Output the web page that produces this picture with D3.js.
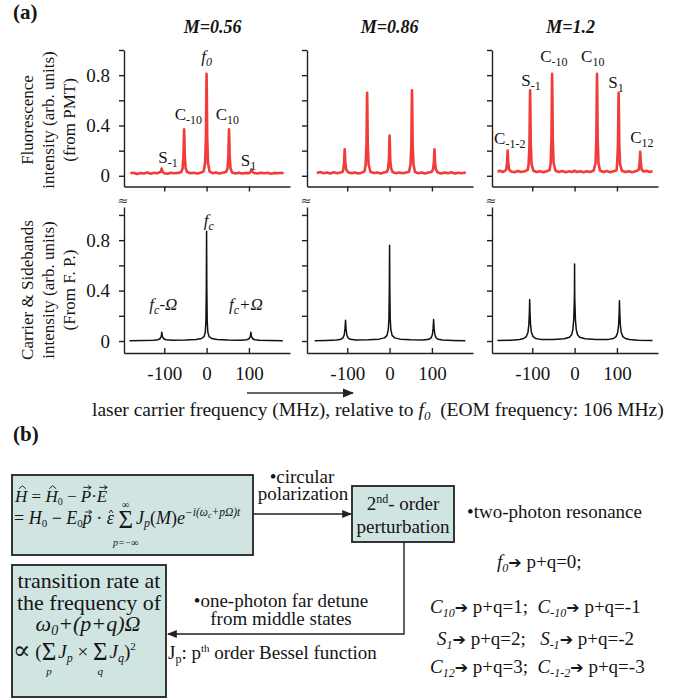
<!DOCTYPE html>
<html><head><meta charset="utf-8">
<script src="https://cdn.jsdelivr.net/npm/d3@7"></script>
<style>html,body{margin:0;padding:0;background:#fff;}svg{display:block;}
svg text{white-space:pre;font-family:"Liberation Serif","Times New Roman",Tinos,"DejaVu Serif","Noto Serif",serif;}</style>
</head><body>
<svg id="fig" width="690" height="698"></svg>
<script>
// ---------------- DATA ----------------
const panelTitles = ["M=0.56", "M=0.86", "M=1.2"];
const xTickValues = [-100, 0, 100];
const yTickValues = [0, 0.2, 0.4, 0.6, 0.8, 1.0];
const yLabeledTicks = [0, 0.4, 0.8];

// Fluorescence (PMT) spectra, [frequency MHz, intensity]
const pmt056 = [[-180,0.02],[-172,0.025],[-164,0.015],[-156,0.022],[-148,0.018],[-140,0.026],[-132,0.017],[-124,0.024],[-116,0.02],[-112,0.028],
 [-108.5,0.03],[-107,0.045],[-106,0.058],[-105,0.045],[-103.5,0.03],
 [-100,0.021],[-92,0.017],[-84,0.025],[-76,0.02],[-68,0.023],[-60,0.028],
 [-56.5,0.06],[-54.5,0.16],[-53.6,0.3],[-53,0.37],[-52.4,0.3],[-51.5,0.16],[-49.5,0.06],
 [-46,0.03],[-38,0.02],[-30,0.025],[-22,0.018],[-14,0.024],[-7,0.035],
 [-3.5,0.1],[-1.5,0.3],[-0.6,0.65],[0,0.81],[0.6,0.65],[1.5,0.3],[3.5,0.1],
 [7,0.035],[14,0.02],[22,0.026],[30,0.018],[38,0.024],[46,0.03],
 [49.5,0.06],[51.5,0.16],[52.4,0.3],[53,0.37],[53.6,0.3],[54.5,0.16],[56.5,0.06],
 [60,0.027],[68,0.019],[76,0.025],[84,0.018],[92,0.023],[100,0.02],
 [103.5,0.03],[105,0.042],[106,0.052],[107,0.042],[108.5,0.03],
 [112,0.022],[120,0.018],[128,0.025],[136,0.02],[144,0.024],[152,0.017],[160,0.023],[168,0.02],[176,0.024],[182,0.02]];
const pmt086 = [[-172,0.022],[-164,0.03],[-156,0.02],[-148,0.027],[-140,0.019],[-132,0.028],[-124,0.021],[-116,0.026],[-111,0.03],
 [-109.5,0.05],[-107.5,0.1],[-106.6,0.17],[-106,0.21],[-105.4,0.17],[-104.5,0.1],[-102.5,0.05],
 [-98,0.028],[-90,0.02],[-82,0.026],[-74,0.018],[-66,0.025],[-59,0.035],
 [-56.5,0.09],[-54.5,0.25],[-53.6,0.52],[-53,0.66],[-52.4,0.52],[-51.5,0.25],[-49.5,0.09],
 [-45,0.03],[-37,0.022],[-29,0.027],[-21,0.019],[-13,0.026],[-6,0.032],
 [-3.5,0.06],[-1.5,0.13],[-0.6,0.26],[0,0.32],[0.6,0.26],[1.5,0.13],[3.5,0.06],
 [7,0.03],[15,0.021],[23,0.027],[31,0.02],[39,0.026],[46,0.032],
 [49.5,0.09],[51.5,0.25],[52.4,0.54],[53,0.68],[53.6,0.54],[54.5,0.25],[56.5,0.09],
 [60,0.03],[68,0.02],[76,0.027],[84,0.019],[92,0.026],[99,0.03],
 [102.5,0.05],[104.5,0.1],[105.4,0.17],[106,0.21],[106.6,0.17],[107.5,0.1],[109.5,0.05],
 [114,0.027],[122,0.019],[130,0.026],[138,0.02],[146,0.028],[154,0.018],[162,0.025],[170,0.021],[180,0.026]];
const pmt12 = [[-182,0.032],[-176,0.04],[-170,0.03],[-164,0.04],
 [-161.5,0.05],[-159.5,0.1],[-158.6,0.16],[-158,0.2],[-157.4,0.16],[-156.5,0.1],[-154.5,0.05],
 [-150,0.034],[-142,0.028],[-134,0.038],[-126,0.03],[-118,0.036],[-111,0.045],
 [-108.5,0.09],[-106.5,0.25],[-105.6,0.54],[-105,0.68],[-104.4,0.54],[-103.5,0.25],[-101.5,0.09],
 [-97,0.04],[-90,0.03],[-82,0.037],[-74,0.029],[-66,0.036],[-59,0.045],
 [-56.5,0.1],[-54.5,0.3],[-53.6,0.64],[-53,0.81],[-52.4,0.64],[-51.5,0.3],[-49.5,0.1],
 [-45,0.04],[-37,0.03],[-29,0.038],[-21,0.028],[-13,0.036],[-6,0.03],[0,0.04],[6,0.03],[13,0.037],[21,0.029],[29,0.036],[37,0.03],[45,0.042],
 [49.5,0.1],[51.5,0.3],[52.4,0.64],[53,0.81],[53.6,0.64],[54.5,0.3],[56.5,0.1],
 [60,0.042],[68,0.03],[76,0.038],[84,0.029],[92,0.036],[99,0.044],
 [100.5,0.09],[102.5,0.25],[103.4,0.52],[104,0.66],[104.6,0.52],[105.5,0.25],[107.5,0.09],
 [112,0.04],[120,0.03],[128,0.037],[136,0.029],[144,0.036],[150,0.045],
 [151.5,0.05],[153.5,0.1],[154.4,0.15],[155,0.19],[155.6,0.15],[156.5,0.1],[158.5,0.05],
 [163,0.034],[170,0.04],[177,0.03],[184,0.036]];

// Carrier & sidebands (Fabry-Perot) spectra
const fp056 = [[-182,0.003],[-150,0.004],[-125,0.006],[-115,0.01],[-110,0.018],[-107,0.035],[-105.7,0.07],[-104.4,0.035],[-101,0.018],[-96,0.01],[-80,0.007],[-50,0.008],[-25,0.012],[-12,0.02],[-6,0.035],[-3,0.07],[-1.5,0.16],[-0.6,0.42],[0,0.87],[0.6,0.42],[1.5,0.16],[3,0.07],[6,0.035],[12,0.02],[25,0.012],[50,0.008],[80,0.007],[95,0.01],[100,0.018],[103.3,0.035],[104.6,0.07],[106,0.035],[109,0.018],[114,0.01],[125,0.006],[150,0.004],[180,0.003]];
const fp086 = [[-177,0.003],[-150,0.005],[-125,0.008],[-115,0.014],[-110,0.025],[-107,0.05],[-105.2,0.1],[-104,0.165],[-102.8,0.1],[-101,0.05],[-98,0.025],[-93,0.014],[-80,0.009],[-50,0.01],[-25,0.015],[-12,0.025],[-6,0.045],[-3,0.09],[-1.5,0.18],[-0.6,0.4],[0,0.76],[0.6,0.4],[1.5,0.18],[3,0.09],[6,0.045],[12,0.025],[25,0.015],[50,0.01],[80,0.009],[93,0.014],[98,0.025],[101,0.05],[102.8,0.1],[104,0.17],[105.2,0.1],[107,0.05],[110,0.025],[115,0.014],[125,0.008],[150,0.005],[179,0.003]];
const fp12 = [[-182,0.004],[-150,0.007],[-130,0.012],[-120,0.02],[-114,0.035],[-110,0.07],[-108,0.13],[-106.8,0.22],[-106,0.33],[-105.2,0.22],[-104,0.13],[-102,0.07],[-98,0.035],[-92,0.02],[-80,0.013],[-50,0.012],[-25,0.018],[-12,0.03],[-7,0.05],[-4,0.09],[-2,0.17],[-0.8,0.3],[-0.3,0.36],[0,0.61],[0.3,0.36],[0.8,0.3],[2,0.17],[4,0.09],[7,0.05],[12,0.03],[25,0.018],[50,0.012],[80,0.013],[92,0.02],[98,0.035],[102,0.07],[104,0.13],[105.2,0.22],[106,0.32],[106.8,0.22],[108,0.13],[110,0.07],[114,0.035],[120,0.02],[130,0.012],[150,0.007],[184,0.004]];

// Peak labels: main text, subscript, tail, anchor frequency, text baseline level, italic
const pmtLabels056 = [
  {m:"f", s:"0", t:"", f:0, v:0.905, it:true},
  {m:"C", s:"-10", t:"", f:-43, v:0.44, it:false},
  {m:"C", s:"10", t:"", f:49, v:0.44, it:false},
  {m:"S", s:"-1", t:"", f:-91, v:0.10, it:false},
  {m:"S", s:"1", t:"", f:99, v:0.08, it:false}];
const pmtLabels12 = [
  {m:"C", s:"-1-2", t:"", f:-153, v:0.25, it:false},
  {m:"S", s:"-1", t:"", f:-103, v:0.71, it:false},
  {m:"C", s:"-10", t:"", f:-49, v:0.905, it:false},
  {m:"C", s:"10", t:"", f:43, v:0.905, it:false},
  {m:"S", s:"1", t:"", f:98, v:0.70, it:false},
  {m:"C", s:"12", t:"", f:159, v:0.26, it:false}];
const fpLabels056 = [
  {m:"f", s:"c", t:"", f:5, v:0.91, it:true},
  {m:"f", s:"c", t:"-Ω", f:-102, v:0.25, it:true},
  {m:"f", s:"c", t:"+Ω", f:93, v:0.25, it:true}];

const pmtSeries = [pmt056, pmt086, pmt12];
const fpSeries = [fp056, fp086, fp12];
const pmtLabelSets = [pmtLabels056, [], pmtLabels12];
const fpLabelSets = [fpLabels056, [], []];

// ---------------- DRAWING ----------------
const SERIF = '"Liberation Serif","Times New Roman",Tinos,"DejaVu Serif","Noto Serif",serif';
const INK = "#151515";
const RED = "#f23b3b";
const svg = d3.select("#fig");
svg.append("rect").attr("width", 690).attr("height", 698).attr("fill", "#fff");

function txt(parent) {
  return parent.append("text").style("font-family", SERIF).style("white-space", "pre");
}

function rich(parent, x, y, parts, o = {}) {
  const g = parent.append("g");
  let cx = 0;
  const base = o.sz || 17;
  parts.forEach(p => {
    if (typeof p === "string") p = {t: p};
    const sz = p.sz || base;
    const it = p.it != null ? p.it : !!o.it;
    const x0 = cx + (p.dx || 0);
    const t = txt(g).attr("x", x0).attr("y", p.dy || 0)
      .attr("font-size", sz)
      .attr("font-style", it ? "italic" : "normal")
      .attr("font-weight", (p.b != null ? p.b : o.b) ? "bold" : "normal")
      .attr("fill", o.fill || INK).text(p.t);
    if (p.ff) t.style("font-family", p.ff);
    const w = t.node().getComputedTextLength();
    if (p.deco === "hat") {
      const yb = p.hy != null ? p.hy : -0.78 * sz;
      g.append("path").attr("d", `M${x0 + w * 0.32},${yb} L${x0 + w * 0.6},${yb - 3} L${x0 + w * 0.88},${yb}`)
        .attr("fill", "none").attr("stroke", INK).attr("stroke-width", 0.9);
    }
    if (p.deco === "vec") {
      const yv = p.vy != null ? p.vy : -0.86 * sz;
      const a = x0 + w * 0.25, b = x0 + w * 1.0;
      g.append("path").attr("d", `M${a},${yv} L${b},${yv} M${b - 3},${yv - 2} L${b},${yv} L${b - 3},${yv + 2}`)
        .attr("fill", "none").attr("stroke", INK).attr("stroke-width", 0.9);
    }
    if (p.lim) {
      const c = x0 + w / 2;
      if (p.lim[0]) txt(g).attr("x", c).attr("y", p.lim[2] || -17).attr("text-anchor", "middle")
        .attr("font-size", p.limSz || 10).attr("font-style", "italic").attr("fill", INK).text(p.lim[0]);
      if (p.lim[1]) txt(g).attr("x", c).attr("y", p.lim[3] || 19).attr("text-anchor", "middle")
        .attr("font-size", p.limSz || 10).attr("font-style", "italic").attr("fill", INK).text(p.lim[1]);
    }
    cx = x0 + w;
  });
  let shift = 0;
  if (o.anchor === "middle") shift = -cx / 2;
  else if (o.anchor === "end") shift = -cx;
  g.attr("transform", `translate(${x + shift},${y})`);
  return g;
}

const panelLeft = [124, 307, 492];
const panelW = 166;
const xDomain = [-195, 197];
const yT = d3.scaleLinear().domain([-0.085, 1]).range([186.5, 50]);
const yB = d3.scaleLinear().domain([-0.095, 1.063]).range([353, 207]);
const titleDx = [6, 0, -4];

function styleAxis(g) {
  g.attr("font-family", null).attr("font-size", null);
  g.selectAll("path,line").attr("stroke", "#222").attr("stroke-width", 1.4);
  g.selectAll("text").style("font-family", SERIF).attr("font-size", 19).attr("fill", INK);
}

panelTitles.forEach((title, i) => {
  const x = d3.scaleLinear().domain(xDomain).range([panelLeft[i], panelLeft[i] + panelW]);
  const L = panelLeft[i];

  txt(svg).attr("x", x(0) + titleDx[i]).attr("y", 33).attr("text-anchor", "middle")
    .attr("font-size", 18).attr("font-weight", "bold").attr("font-style", "italic")
    .attr("fill", INK).text(title);

  const gyT = svg.append("g").attr("transform", `translate(${L},0)`)
    .call(d3.axisLeft(yT).tickValues(yTickValues).tickSizeInner(5).tickSizeOuter(0).tickPadding(9)
      .tickFormat(d => (i === 0 && yLabeledTicks.includes(d)) ? String(d) : ""));
  styleAxis(gyT);
  const gxT = svg.append("g").attr("transform", `translate(0,${yT.range()[0]})`)
    .call(d3.axisBottom(x).tickValues(xTickValues).tickSizeInner(5).tickSizeOuter(0).tickFormat(""));
  styleAxis(gxT);

  const gyB = svg.append("g").attr("transform", `translate(${L},0)`)
    .call(d3.axisLeft(yB).tickValues(yTickValues).tickSizeInner(5).tickSizeOuter(0).tickPadding(9)
      .tickFormat(d => (i === 0 && yLabeledTicks.includes(d)) ? String(d) : ""));
  styleAxis(gyB);
  const gxB = svg.append("g").attr("transform", `translate(0,${yB.range()[0]})`)
    .call(d3.axisBottom(x).tickValues(xTickValues).tickSizeInner(-5).tickSizeOuter(0).tickPadding(14)
      .tickFormat(d => String(d)));
  styleAxis(gxB);

  svg.append("text").attr("x", L - 1).attr("y", 205).attr("text-anchor", "middle")
    .style("font-family", "'DejaVu Sans',sans-serif").attr("font-size", 13).attr("fill", "#444").text("≈");

  const lineT = d3.line().x(d => x(d[0])).y(d => yT(d[1]));
  svg.append("path").datum(pmtSeries[i]).attr("d", lineT).attr("fill", "none")
    .attr("stroke", RED).attr("stroke-width", 2.6).attr("stroke-linejoin", "round");
  const lineB = d3.line().x(d => x(d[0])).y(d => yB(d[1]));
  svg.append("path").datum(fpSeries[i]).attr("d", lineB).attr("fill", "none")
    .attr("stroke", "#111").attr("stroke-width", 1.5).attr("stroke-linejoin", "round");

  pmtLabelSets[i].forEach(l => {
    rich(svg, x(l.f), yT(l.v), [{t: l.m, it: l.it}, {t: l.s, sz: 12, dy: 4, it: l.it}, {t: l.t, it: l.it}], {sz: 17, anchor: "middle"});
  });
  fpLabelSets[i].forEach(l => {
    rich(svg, x(l.f), yB(l.v), [{t: l.m, it: true}, {t: l.s, sz: 12, dy: 4, it: true}, {t: l.t, it: true}], {sz: 17, anchor: "middle"});
  });
});

function vlabel(lines, cy) {
  const xs = [33, 54, 75];
  lines.forEach((s, k) => {
    txt(svg).attr("transform", `translate(${xs[k]},${cy}) rotate(-90)`).attr("text-anchor", "middle")
      .attr("font-size", 17).attr("fill", INK).text(s);
  });
}
vlabel(["Fluorescence", "intensity (arb. units)", "(from PMT)"], 120);
vlabel(["Carrier & Sidebands", "intensity (arb. units)", "(From F. P.)"], 290);

txt(svg).attr("x", 13).attr("y", 19).attr("font-size", 21).attr("font-weight", "bold").attr("fill", INK).text("(a)");
txt(svg).attr("x", 13).attr("y", 441).attr("font-size", 21).attr("font-weight", "bold").attr("fill", INK).text("(b)");

const defs = svg.append("defs");
defs.append("marker").attr("id", "ah").attr("viewBox", "0 0 10 10").attr("refX", 9).attr("refY", 5)
  .attr("markerWidth", 7).attr("markerHeight", 7).attr("orient", "auto-start-reverse")
  .append("path").attr("d", "M0,1 L10,5 L0,9 Z").attr("fill", "#222");
svg.append("line").attr("x1", 247).attr("y1", 393).attr("x2", 353).attr("y2", 393)
  .attr("stroke", "#333").attr("stroke-width", 1.6).attr("marker-end", "url(#ah)");
rich(svg, 92, 416, ["laser carrier frequency (MHz), relative to ", {t: "f", it: true}, {t: "0", it: true, sz: 13, dy: 4},
  {t: "  (EOM frequency: 106 MHz)"}], {sz: 19.5});

// ---------------- (b) diagram ----------------
const FILL = "#d0e4e2";
svg.append("rect").attr("x", 12).attr("y", 475).attr("width", 241).attr("height", 80)
  .attr("fill", FILL).attr("stroke", "#222").attr("stroke-width", 1.8);
svg.append("rect").attr("x", 352).attr("y", 486).attr("width", 102).attr("height", 56)
  .attr("fill", FILL).attr("stroke", "#222").attr("stroke-width", 1.8);
svg.append("rect").attr("x", 12).attr("y", 565).attr("width", 154).attr("height", 132)
  .attr("fill", FILL).attr("stroke", "#222").attr("stroke-width", 1.8);

rich(svg, 15, 502, [{t: "H", it: true, deco: "hat"}, " = ", {t: "H", it: true, deco: "hat"}, {t: "0", sz: 10, dy: 3},
  " − ", {t: "P", it: true, deco: "vec"}, "·", {t: "E", it: true, deco: "vec"}], {sz: 17});
rich(svg, 14, 524, ["= ", {t: "H", it: true}, {t: "0", sz: 11, dy: 3}, " − ", {t: "E", it: true}, {t: "0", sz: 11, dy: 3},
  {t: "p", it: true, deco: "vec", vy: -12}, " · ", {t: "ε", it: true, deco: "hat", hy: -11}, " ",
  {t: "Σ", sz: 25, dy: 4, lim: ["∞", "p=−∞", -16, 22], limSz: 10},
  {t: "J", it: true, dx: 3}, {t: "p", it: true, sz: 12, dy: 3}, "(", {t: "M", it: true}, ")", {t: "e", it: true},
  {t: "−i(ω", it: true, sz: 11.5, dy: -8}, {t: "c", it: true, sz: 8, dy: -6}, {t: "+pΩ)t", it: true, sz: 11.5, dy: -8}], {sz: 18});

svg.append("line").attr("x1", 253).attr("y1", 514).attr("x2", 351).attr("y2", 514)
  .attr("stroke", "#222").attr("stroke-width", 1.4).attr("marker-end", "url(#ah)");
rich(svg, 302, 483, ["•circular"], {sz: 19, anchor: "middle"});
rich(svg, 303, 500, ["polarization"], {sz: 19, anchor: "middle"});

rich(svg, 403, 510, ["2", {t: "nd", sz: 12, dy: -7}, "- order"], {sz: 19, anchor: "middle"});
rich(svg, 403, 533, ["perturbation"], {sz: 19, anchor: "middle"});

svg.append("path").attr("d", "M404,542 L404,634 L168,634").attr("fill", "none")
  .attr("stroke", "#222").attr("stroke-width", 1.4).attr("marker-end", "url(#ah)");
rich(svg, 281, 607, ["•one-photon far detune"], {sz: 19, anchor: "middle"});
rich(svg, 281, 625, ["from middle states"], {sz: 19, anchor: "middle"});

rich(svg, 89, 588, ["transition rate at"], {sz: 22, anchor: "middle"});
rich(svg, 89, 610, ["the frequency of"], {sz: 22, anchor: "middle"});
rich(svg, 88, 631, [{t: "ω", it: true}, {t: "0", it: true, sz: 14, dy: 4}, {t: "+(p+q)Ω", it: true}], {sz: 22, anchor: "middle"});
rich(svg, 13, 658, [{t: "∝", sz: 26, dy: 1}, " (", {t: "Σ", sz: 25, dy: 2, lim: [null, "p", 0, 17], limSz: 11}, {t: "J", it: true, dx: 2},
  {t: "p", it: true, sz: 12, dy: 4}, " × ", {t: "Σ", sz: 25, dy: 2, lim: [null, "q", 0, 17], limSz: 11},
  {t: "J", it: true, dx: 2}, {t: "q", it: true, sz: 12, dy: 4}, ")", {t: "2", sz: 11, dy: -8}], {sz: 19});

rich(svg, 168, 659, ["J", {t: "p", sz: 12, dy: 4}, ": p", {t: "th", sz: 11, dy: -7}, " order Bessel function"], {sz: 19});

rich(svg, 467, 518, ["•two-photon resonance"], {sz: 19});
const ARW = {t: "➔", sz: 16, ff: "'DejaVu Sans',sans-serif"};
rich(svg, 497, 568, [{t: "f", it: true}, {t: "0", it: true, sz: 12, dy: 4}, ARW, " p+q=0;"], {sz: 19});
rich(svg, 430, 613, [{t: "C", it: true}, {t: "10", it: true, sz: 12, dy: 4}, ARW, " p+q=1;  ",
  {t: "C", it: true}, {t: "-10", it: true, sz: 12, dy: 4}, ARW, " p+q=-1"], {sz: 19});
rich(svg, 437, 645, [{t: "S", it: true}, {t: "1", it: true, sz: 12, dy: 4}, ARW, " p+q=2;   ",
  {t: "S", it: true}, {t: "-1", it: true, sz: 12, dy: 4}, ARW, " p+q=-2"], {sz: 19});
rich(svg, 430, 673, [{t: "C", it: true}, {t: "12", it: true, sz: 12, dy: 4}, ARW, " p+q=3;  ",
  {t: "C", it: true}, {t: "-1-2", it: true, sz: 12, dy: 4}, ARW, " p+q=-3"], {sz: 19});
</script>
</body></html>
